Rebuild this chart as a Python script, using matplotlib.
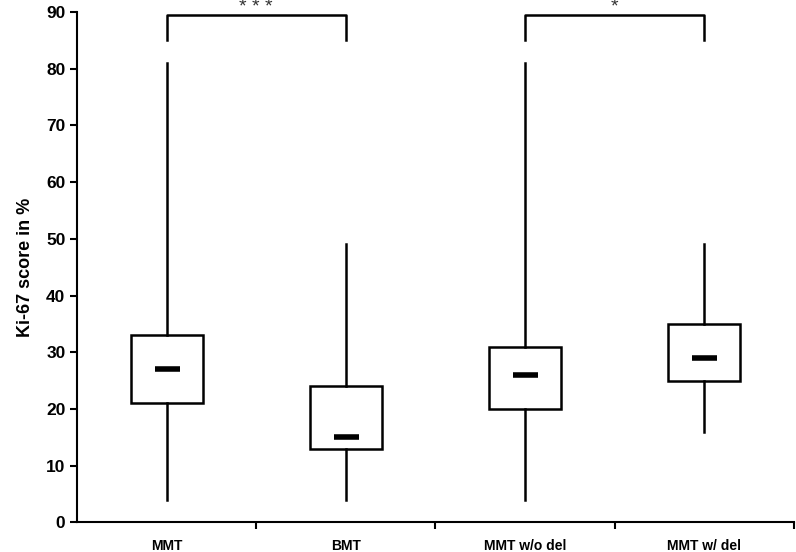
import matplotlib.pyplot as plt

plt.rcParams['font.family'] = ['Liberation Sans', 'DejaVu Sans']

groups = ['MMT', 'BMT', 'MMT w/o del', 'MMT w/ del']
whisker_low = [4, 4, 4, 16]
q1 = [21, 13, 20, 25]
median = [27, 15, 26, 29]
q3 = [33, 24, 31, 35]
whisker_high = [81, 49, 81, 49]

# significance brackets: (left group, right group, label)
brackets = [(0, 1, '* * *'), (2, 3, '*')]

fig = plt.figure(figsize=(7.96, 5.52), dpi=100)
ax = fig.add_axes([0.097, 0.054, 0.90, 0.924])

stats = []
for i in range(len(groups)):
    stats.append({'whislo': whisker_low[i], 'q1': q1[i], 'med': median[i],
                  'q3': q3[i], 'whishi': whisker_high[i], 'fliers': []})

pos = list(range(len(groups)))
ax.bxp(stats, positions=pos, widths=0.4, showcaps=False, showfliers=False,
       patch_artist=True,
       boxprops=dict(facecolor='white', edgecolor='black', linewidth=1.8),
       whiskerprops=dict(color='black', linewidth=1.8),
       medianprops=dict(linewidth=0))
ax.plot(pos, median, linestyle='none', marker='_', markersize=18,
        markeredgewidth=4, color='black', zorder=5)

for a, b, label in brackets:
    ax.plot([a, a, b, b], [85, 89.5, 89.5, 85], color='black', lw=1.8,
            clip_on=False)
    ax.text((a + b) / 2, 90.9, label, ha='center', va='center', fontsize=14,
            color='#333333', clip_on=False)

ax.set_xlim(-0.5, 3.5)
ax.set_ylim(0, 90)
ax.set_yticks(range(0, 91, 10))
ax.tick_params(axis='y', labelsize=12.5, width=1.5, length=5, direction='out')
for t in ax.get_yticklabels():
    t.set_fontweight('bold')

ax.set_xticks(pos)
ax.set_xticklabels(groups, fontsize=10, fontweight='bold')
ax.tick_params(axis='x', length=0, pad=12)
ax.set_xticks([0.5, 1.5, 2.5, 3.5], minor=True)
ax.tick_params(axis='x', which='minor', length=5, width=1.5, direction='out')

ax.set_ylabel('Ki-67 score in %', fontsize=13, fontweight='bold', labelpad=9)

ax.spines['top'].set_visible(False)
ax.spines['right'].set_visible(False)
ax.spines['left'].set_linewidth(1.5)
ax.spines['bottom'].set_linewidth(1.5)

fig.savefig('out.png', dpi=100)
